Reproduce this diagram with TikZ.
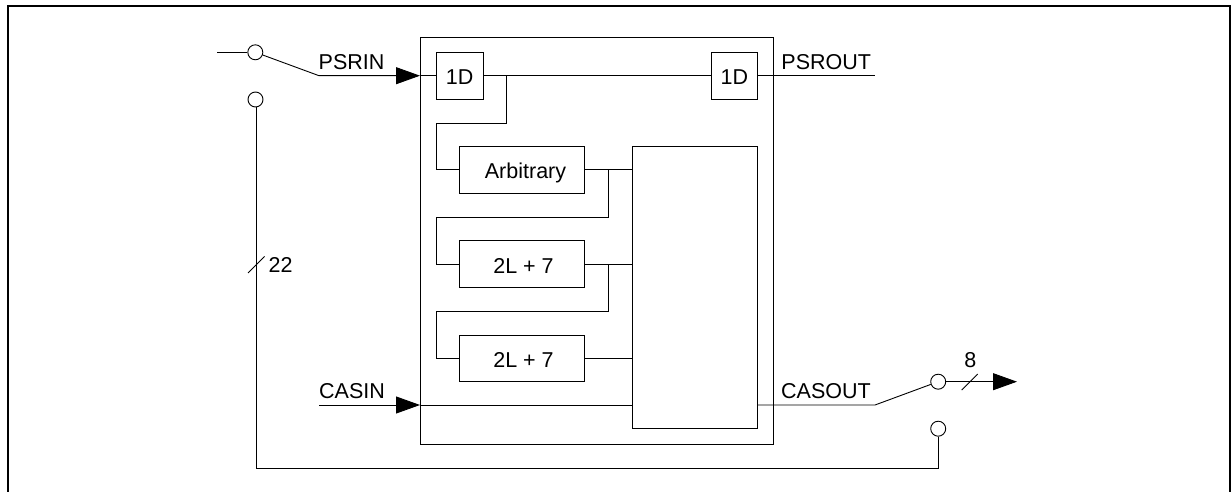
\documentclass[tikz,border=0pt]{standalone}
\usepackage{fontspec}
\setmainfont{Liberation Sans}
\usetikzlibrary{arrows.meta,calc}
\tikzset{
  x=1pt,y=-1pt,
  wire/.style={draw=black,line width=0.9pt},
  blockbox/.style={draw=black,line width=0.9pt,fill=white,inner sep=0pt,font=\fontsize{21.5}{24}\selectfont,text height=18pt,text depth=0pt,anchor=center},
  contact/.style={circle,draw=black,line width=0.9pt,fill=white,minimum size=15pt,inner sep=0pt},
  lbl/.style={inner sep=0pt,font=\fontsize{21.5}{24}\selectfont},
  fat/.style={-{Triangle[length=24pt,width=17pt]}},
}
\begin{document}
\begin{tikzpicture}
\useasboundingbox (0,0) rectangle (1231,492);
\path[draw=black,line width=2pt] (8,492) -- (8,6.5) -- (1230,6.5) -- (1230,492);
% outer block
\node[blockbox,minimum width=352.5pt,minimum height=407pt] (outer) at (596.7,240.5) {};
\node[blockbox,minimum width=125.5pt,minimum height=281.5pt] (merge) at (694.8,287.3) {};
\node[blockbox,minimum width=46.7pt,minimum height=46.7pt] (din) at (459.7,75.7) {1D};
\node[blockbox,minimum width=46.7pt,minimum height=46.7pt] (dout) at (734.3,75.7) {1D};
\node[blockbox,minimum width=125pt,minimum height=46.7pt] (arb) at (522,169.8) {\hspace*{7pt}Arbitrary};
\node[blockbox,minimum width=125pt,minimum height=46.7pt] (da) at (522,264) {\hspace*{3pt}2L + 7};
\node[blockbox,minimum width=125pt,minimum height=46.7pt] (db) at (522,358.3) {\hspace*{3pt}2L + 7};
% contacts
\node[contact] (c1) at (255.3,52.3) {};
\node[contact] (c2) at (255.5,99.5) {};
\node[contact] (c3) at (938.2,381.7) {};
\node[contact] (c4) at (938.2,428.7) {};
% free ends
\coordinate (psrinstart) at (217,52.3);
\coordinate (psrinbend) at (319,75.7);
\coordinate (casinstart) at (319,405);
\coordinate (psroutend) at (875,75.7);
\coordinate (casoutbend) at (875,405);
\coordinate (outend) at (1017,381.7);
\coordinate (fbl) at (256,468);
\coordinate (fbr) at (938.7,468);
% PSRIN
\draw[wire] (psrinstart) -- (c1.west);
\draw[wire,fat] (c1.-20) -- (psrinbend) -- (din.west -| outer.west);
\draw[wire] (din.west -| outer.west) -- (din.west);
\draw[wire] (din.east) -- (dout.west);
\draw[wire] (dout.east) -- (psroutend);
% chain
\draw[wire] (506.5,75.7) -- (506.5,123.2) -- (436.5,123.2) -- (436.5,169.8) -- (arb.west);
\draw[wire] (arb.east) -- (arb.east -| merge.west);
\draw[wire] (608.7,169.8) -- (608.7,217) -- (436.5,217) -- (436.5,264) -- (da.west);
\draw[wire] (da.east) -- (da.east -| merge.west);
\draw[wire] (608.7,264) -- (608.7,311.3) -- (436.5,311.3) -- (436.5,358.3) -- (db.west);
\draw[wire] (db.east) -- (db.east -| merge.west);
% CAS
\draw[wire,fat] (casinstart) -- (casinstart -| outer.west);
\draw[wire] (casinstart -| outer.west) -- (casinstart -| merge.west);
\draw[wire] (casoutbend -| merge.east) -- (casoutbend) -- (c3.200);
\draw[wire,fat] (c3.east) -- (outend);
% feedback
\draw[wire] (c2.south -| fbl) -- (fbl) -- (fbr) -- (c4.south -| fbr);
% bus slashes
\draw[wire] (248,273) -- (264.5,256.5);
\draw[wire] (961.7,390) -- (977.7,374);
% labels
\node[lbl,anchor=base west] (tpsrin) at (318.5,69.3) {PSRIN};
\node[lbl,anchor=base west] (tpsrout) at (781.2,69.3) {PSROUT};
\node[lbl,anchor=base west] (tcasin) at (319,398.3) {CASIN};
\node[lbl,anchor=base west] (tcasout) at (781,398.3) {CASOUT};
\node[lbl,anchor=base west] (t22) at (268.5,272.5) {22};
\node[lbl,anchor=base west] (t8) at (964.2,367.3) {8};
\end{tikzpicture}
\end{document}
